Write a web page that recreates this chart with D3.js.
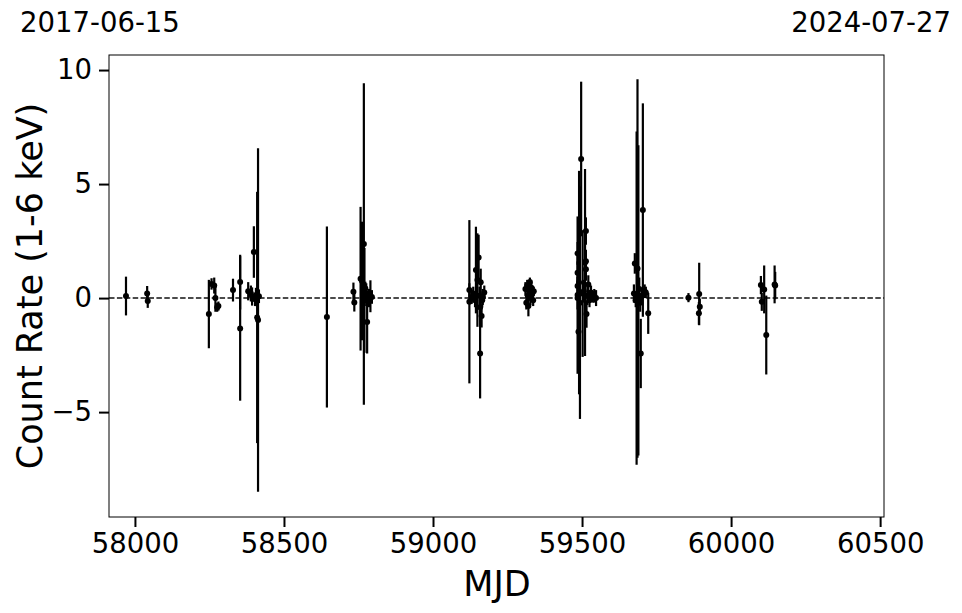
<!DOCTYPE html>
<html>
<head>
<meta charset="utf-8">
<script src="https://cdn.jsdelivr.net/npm/d3@7"></script>
<style>
  body { margin: 0; background: #fff; }
  svg { display: block; }
  text { font-family: "DejaVu Sans", sans-serif; fill: #000; }
</style>
</head>
<body>
<svg id="chart" width="962" height="613"></svg>
<script>
// ---- data ----
const mjd = [
  57970, 58041, 58043,
  58248, 58257, 58266, 58270, 58276, 58280,
  58329, 58353, 58353, 58380, 58389, 58393, 58399, 58403, 58406, 58410, 58413, 58416,
  58644,
  58733, 58736, 58757, 58762, 58766, 58768, 58770, 58773, 58776, 58779, 58785, 58790, 58795,
  59122, 59122, 59130, 59135, 59141, 59144, 59149, 59153, 59156, 59158, 59158, 59160, 59163, 59165, 59167, 59172,
  59310, 59313, 59316, 59318, 59320, 59322, 59325, 59327, 59330, 59333, 59336, 59338,
  59485, 59485, 59485, 59485, 59485, 59488, 59490, 59493, 59497, 59502, 59506, 59510, 59513, 59513, 59513, 59515, 59518, 59521, 59525, 59530, 59536, 59541, 59547,
  59674, 59677, 59680, 59683, 59686, 59689, 59692, 59695, 59697, 59700, 59704, 59710, 59714, 59722,
  59857, 59892, 59893, 59895,
  60100, 60103, 60111, 60118, 60146, 60148
];
const rate = [
  0.09, 0.20, -0.13,
  -0.70, 0.62, 0.55, 0.00, -0.40, -0.35,
  0.35, 0.70, -1.33, 0.30, 0.20, 0.07, 2.02, -0.05, 0.05, -0.85, -0.96, 0.08,
  -0.83,
  0.28, -0.19, 0.85, 0.75, 0.00, 2.37, -0.10, 0.42, 0.15, -1.05, 0.00, 0.08, 0.05,
  0.35, -0.16, 0.05, 0.20, -0.10, 1.23, 0.79, 1.78, 0.10, -0.40, -2.43, 0.69, -0.79, -0.10, 0.05, 0.25,
  0.40, -0.20, 0.55, 0.10, -0.35, 0.30, 0.70, 0.00, 0.45, 0.20, -0.10, 0.30,
  1.96, 1.11, 0.53, 0.00, 0.13, -1.48, 0.68, -0.20, 6.10, 0.20, 0.30, 1.56, 2.94, 1.62, 1.26, -0.70, 0.10, 0.60, -0.10, 0.25, 0.05, 0.10, 0.00,
  0.20, 1.52, -0.10, 0.00, 1.30, -0.10, 0.40, -0.20, -2.43, 0.10, 3.86, 0.30, 0.25, -0.67,
  0.02, -0.67, 0.18, -0.38,
  0.57, -0.16, 0.38, -1.62, 0.60, 0.55
];
const err = [
  0.85, 0.33, 0.30,
  1.50, 0.25, 0.35, 0.60, 0.20, 0.20,
  0.50, 1.20, 3.17, 0.40, 0.35, 0.40, 1.13, 0.30, 0.40, 5.51, 7.53, 0.30,
  3.97,
  0.40, 0.40, 3.15, 2.60, 0.50, 7.05, 2.30, 0.30, 0.50, 1.38, 0.40, 0.70, 0.30,
  0.30, 3.58, 0.30, 0.30, 0.30, 1.90, 2.05, 1.00, 0.40, 0.50, 1.97, 0.60, 0.50, 0.30, 0.35, 0.30,
  0.30, 0.30, 0.25, 0.35, 0.45, 0.30, 0.20, 0.30, 0.25, 0.30, 0.25, 0.20,
  0.50, 0.50, 0.40, 0.50, 3.45, 1.50, 4.90, 5.10, 3.39, 2.78, 0.50, 4.10, 0.60, 0.50, 0.50, 0.60, 0.40, 0.40, 0.30, 0.30, 0.25, 0.30, 0.35,
  0.40, 0.45, 0.30, 7.31, 8.30, 6.80, 0.50, 0.40, 1.52, 0.30, 4.68, 0.30, 0.25, 0.90,
  0.20, 0.50, 1.37, 0.35,
  0.40, 0.40, 1.05, 1.73, 0.83, 0.60
];
const xTicks = [58000, 58500, 59000, 59500, 60000, 60500];
const yTicks = [-5, 0, 5, 10];
const startDate = "2017-06-15";
const endDate = "2024-07-27";
const xLabel = "MJD";
const yLabel = "Count Rate (1-6 keV)";

// ---- layout ----
const svg = d3.select("#chart");
const L = 109, R = 884, T = 55, B = 517;

const x = d3.scaleLinear().domain([57913, 60513]).range([L, R]);
const y = d3.scaleLinear().domain([-9.6, 10.66]).range([B, T]);

const pts = mjd.map((m, i) => ({ m, v: rate[i], e: err[i] }));

// zero line
svg.append("line")
  .attr("x1", L).attr("x2", R)
  .attr("y1", y(0)).attr("y2", y(0))
  .attr("stroke", "#111").attr("stroke-width", 1.5)
  .attr("stroke-dasharray", "5.5,2.4");

// error bars
svg.append("g").selectAll("line").data(pts).join("line")
  .attr("x1", d => x(d.m)).attr("x2", d => x(d.m))
  .attr("y1", d => y(d.v - d.e)).attr("y2", d => y(d.v + d.e))
  .attr("stroke", "#000").attr("stroke-width", 2.2);

// markers
svg.append("g").selectAll("circle").data(pts).join("circle")
  .attr("cx", d => x(d.m)).attr("cy", d => y(d.v))
  .attr("r", 3).attr("fill", "#000");

// frame
svg.append("rect")
  .attr("x", L).attr("y", T).attr("width", R - L).attr("height", B - T)
  .attr("fill", "none").attr("stroke", "#000").attr("stroke-width", 1);

// axes
const fmt = d3.format("d");
const xAxis = d3.axisBottom(x).tickValues(xTicks).tickFormat(fmt).tickSize(10).tickPadding(6);
const gx = svg.append("g").attr("transform", `translate(0,${B})`).call(xAxis);
gx.select(".domain").remove();
gx.selectAll(".tick line").attr("stroke-width", 2);
gx.selectAll(".tick text").style("font-size", "27.5px").style("font-family", "DejaVu Sans");

const yAxis = d3.axisLeft(y).tickValues(yTicks).tickFormat(d3.format("d")).tickSize(10).tickPadding(7);
const gy = svg.append("g").attr("transform", `translate(${L},0)`).call(yAxis);
gy.select(".domain").remove();
gy.selectAll(".tick line").attr("stroke-width", 2);
gy.selectAll(".tick text").style("font-size", "27.5px").style("font-family", "DejaVu Sans");

// labels
svg.append("text").attr("x", (L + R) / 2 + 0.5).attr("y", 596)
  .attr("text-anchor", "middle").style("font-size", "35px").text(xLabel);
svg.append("text")
  .attr("transform", `translate(42,${(T + B) / 2}) rotate(-90)`)
  .attr("text-anchor", "middle").style("font-size", "35px").text(yLabel);

svg.append("text").attr("x", 20).attr("y", 32)
  .style("font-size", "27.5px").text(startDate);
svg.append("text").attr("x", 951).attr("y", 32).attr("text-anchor", "end")
  .style("font-size", "27.5px").text(endDate);
</script>
</body>
</html>
